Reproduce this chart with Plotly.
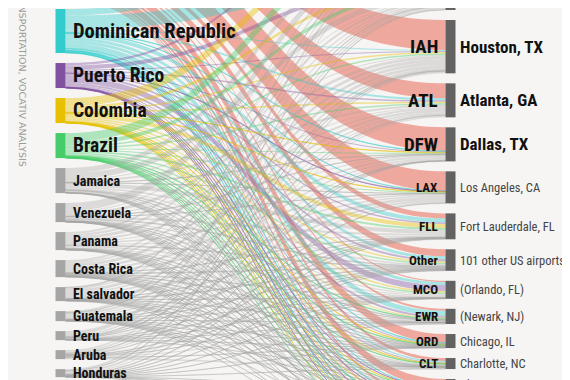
import plotly.graph_objects as go

# ---------------- data ----------------
countries = ["Mexico", "Dominican Republic", "Puerto Rico", "Colombia", "Brazil",
             "Jamaica", "Venezuela", "Panama", "Costa Rica", "El salvador",
             "Guatemala", "Peru", "Aruba", "Honduras"]
airports = ["MIA", "JFK", "IAH", "ATL", "DFW", "LAX", "FLL", "Other",
            "MCO", "EWR", "ORD", "CLT", "PHX", "LAS", "SFO", "DEN", "SAN"]
airport_names = ["Miami, FL", "New York, NY", "Houston, TX", "Atlanta, GA", "Dallas, TX",
                 "Los Angeles, CA", "Fort Lauderdale, FL", "101 other US airports",
                 "(Orlando, FL)", "(Newark, NJ)", "Chicago, IL", "Charlotte, NC", "Phoenix, AZ",
                 "Las Vegas, NV", "San Francisco, CA", "Denver, CO", "San Diego, CA"]

# flows from each origin to each airport (airport order above), estimated
mexico      = [1.0, 2.0, 30.0, 15.0, 23.5, 19.6, 5.0, 7.0, 1.2, 2.0, 8.7, 2.9, 7.9, 2.5, 1.5, 1.0, 1.0]
dominican   = [6.5, 14.0, 1.0, 2.0, 0.5, 0.3, 4.0, 3.0, 3.0, 5.0, 0.5, 1.5, 0.2, 0.8, 0.8, 0.5, 0.4]
puerto_rico = [2.4, 4.0, 1.0, 1.5, 1.0, 0.5, 1.5, 2.0, 6.0, 2.0, 1.0, 1.0, 0.3, 0.3, 0.2, 0.2, 0.1]
colombia    = [8.3, 3.0, 1.5, 1.5, 0.5, 0.5, 4.0, 1.5, 1.5, 1.0, 0.5, 0.5, 0.1, 0.2, 0.2, 0.1, 0.1]
brazil      = [8.5, 4.0, 1.5, 1.5, 1.0, 1.0, 2.0, 1.5, 1.5, 0.5, 0.5, 0.5, 0.2, 0.2, 0.3, 0.2, 0.1]
jamaica     = [5.1, 6.0, 1.0, 2.0, 0.5, 0.3, 4.0, 1.5, 1.0, 0.8, 0.5, 1.5, 0.2, 0.2, 0.2, 0.1, 0.1]
venezuela   = [8.0, 1.0, 3.0, 1.0, 0.5, 0.3, 2.0, 0.8, 1.0, 0.3, 0.3, 0.3, 0.1, 0.1, 0.1, 0.1, 0.1]
panama      = [2.0, 2.3, 3.0, 2.0, 1.0, 1.5, 1.0, 0.8, 1.5, 1.0, 0.5, 0.3, 0.3, 0.3, 0.2, 0.2, 0.1]
costa_rica  = [2.0, 1.5, 3.0, 2.5, 2.0, 1.5, 0.5, 0.8, 0.3, 0.8, 0.5, 0.5, 0.3, 0.2, 0.2, 0.2, 0.2]
el_salvador = [0.9, 1.3, 3.0, 1.5, 1.5, 3.0, 0.3, 0.8, 0.2, 0.3, 0.2, 0.2, 0.2, 0.2, 0.2, 0.0, 0.2]
guatemala   = [1.5, 0.5, 2.0, 1.0, 1.0, 2.0, 0.3, 0.5, 0.2, 0.2, 0.2, 0.1, 0.1, 0.1, 0.1, 0.1, 0.1]
peru        = [4.0, 1.5, 0.8, 0.5, 0.3, 1.0, 0.3, 0.2, 0.1, 0.1, 0.1, 0.1, 0.0, 0.0, 0.0, 0.0, 0.0]
aruba       = [1.5, 1.5, 0.5, 1.0, 0.2, 0.0, 0.5, 0.8, 0.3, 1.0, 0.3, 1.4, 0.0, 0.0, 0.0, 0.0, 0.0]
honduras    = [1.5, 0.5, 2.0, 1.0, 0.5, 0.5, 0.5, 0.3, 0.2, 0.2, 0.2, 0.2, 0.1, 0.1, 0.1, 0.0, 0.1]

flows = [mexico, dominican, puerto_rico, colombia, brazil, jamaica, venezuela,
         panama, costa_rica, el_salvador, guatemala, peru, aruba, honduras]

SOURCE_TEXT = "SOURCE: DEPARTMENT OF TRANSPORTATION, VOCATIV ANALYSIS"

# ---------------- styling ----------------
W, H = 570, 380
OFF = 8          # page body margin offsets the figure by 8px
BG = "#f6f5f3"
FONT = "Roboto Condensed, Roboto, Liberation Sans, sans-serif"
GAP = 10
node_rgb = {
    "Mexico": (232, 80, 60), "Dominican Republic": (51, 204, 204),
    "Puerto Rico": (130, 80, 160), "Colombia": (232, 192, 0), "Brazil": (70, 205, 105),
}
gray_rgb = (165, 165, 165)
link_alpha = {"Mexico": 0.47, "Dominican Republic": 0.4, "Puerto Rico": 0.4,
              "Colombia": 0.42, "Brazil": 0.4}

left_tot = [sum(r) for r in flows]
right_tot = [sum(r[j] for r in flows) for j in range(len(airports))]
T = sum(left_tot)
ky = H / T  # px per unit (node padding 0)

def stack(tots, anchor_idx, anchor_top):
    tops = [0.0] * len(tots)
    tops[anchor_idx] = anchor_top
    for i in range(anchor_idx + 1, len(tots)):
        tops[i] = tops[i - 1] + tots[i - 1] * ky + GAP
    for i in range(anchor_idx - 1, -1, -1):
        tops[i] = tops[i + 1] - GAP - tots[i] * ky
    return [t + v * ky / 2 for t, v in zip(tops, tots)]

left_c = stack(left_tot, 1, 9 - OFF)
right_c = stack(right_tot, 2, 20 - OFF)
LX, RX = 60.5 - OFF, 450.5 - OFF

node_colors, node_x, node_y = [], [], []
for c, cy in zip(countries, left_c):
    r, g, b = node_rgb.get(c, gray_rgb)
    node_colors.append(f"rgb({r},{g},{b})")
    node_x.append(LX / W)
    node_y.append(cy / H)
for a, cy in zip(airports, right_c):
    node_colors.append("#626262")
    node_x.append(RX / W)
    node_y.append(cy / H)

src, tgt, val, lcol = [], [], [], []
nC = len(countries)
for i, row in enumerate(flows):
    r, g, b = node_rgb.get(countries[i], gray_rgb)
    al = link_alpha.get(countries[i], 0.33)
    for j, v in enumerate(row):
        if v > 0:
            src.append(i); tgt.append(nC + j); val.append(v)
            lcol.append(f"rgba({r},{g},{b},{al})")

fig = go.Figure(go.Sankey(
    arrangement="fixed",
    domain=dict(x=[0, 1], y=[0, 1]),
    node=dict(label=[""] * (len(countries) + len(airports)), color=node_colors,
              x=node_x, y=node_y, pad=0, thickness=10, line=dict(width=0)),
    link=dict(source=src, target=tgt, value=val, color=lcol),
    hoverinfo="none",
))

ann = []
big = {"Dominican Republic": 20.5, "Puerto Rico": 19.5, "Colombia": 19.5, "Brazil": 19.5}
for c, cy in zip(countries, left_c):
    if c == "Mexico":
        continue
    ann.append(dict(x=(71 - OFF) / W, y=1 - cy / H, xref="paper", yref="paper", text=c,
                    showarrow=False, xanchor="left", yanchor="middle",
                    font=dict(family=FONT, size=big.get(c, 14), color="#111", weight="bold")))
bigR = {"IAH": 19, "ATL": 19, "DFW": 19}
for a, nm, cy in zip(airports, airport_names, right_c):
    if cy < 0 or cy > H - 2:
        continue
    s = bigR.get(a, 13)
    ann.append(dict(x=(440 - OFF) / W, y=1 - cy / H, xref="paper", yref="paper", text=a,
                    showarrow=False, xanchor="right", yanchor="middle",
                    font=dict(family=FONT, size=s, color="#111", weight="bold")))
    if a in bigR:
        f = dict(family=FONT, size=17, color="#111", weight="bold")
    else:
        f = dict(family=FONT, size=12.5, color="#444")
    ann.append(dict(x=(458 - OFF) / W, y=1 - cy / H, xref="paper", yref="paper", text=nm,
                    showarrow=False, xanchor="left", yanchor="middle", font=f))

# vertical source credit, centred so its last letter sits at y=170 on screen
SRC_SIZE = 9.5
src_len = 33.12 * SRC_SIZE            # DejaVu Sans advance length of the text
src_center = 170 - src_len / 2 - OFF
ann.append(dict(x=(22 - OFF) / W, y=1 - src_center / H, xref="paper", yref="paper",
                text=SOURCE_TEXT, textangle=90, showarrow=False,
                xanchor="center", yanchor="middle",
                font=dict(family="DejaVu Sans", size=SRC_SIZE, color="#9a9a9a")))

fig.update_layout(width=W, height=H, margin=dict(l=0, r=0, t=0, b=0),
                  paper_bgcolor=BG, plot_bgcolor=BG, annotations=ann)
fig.write_html("out.html")
